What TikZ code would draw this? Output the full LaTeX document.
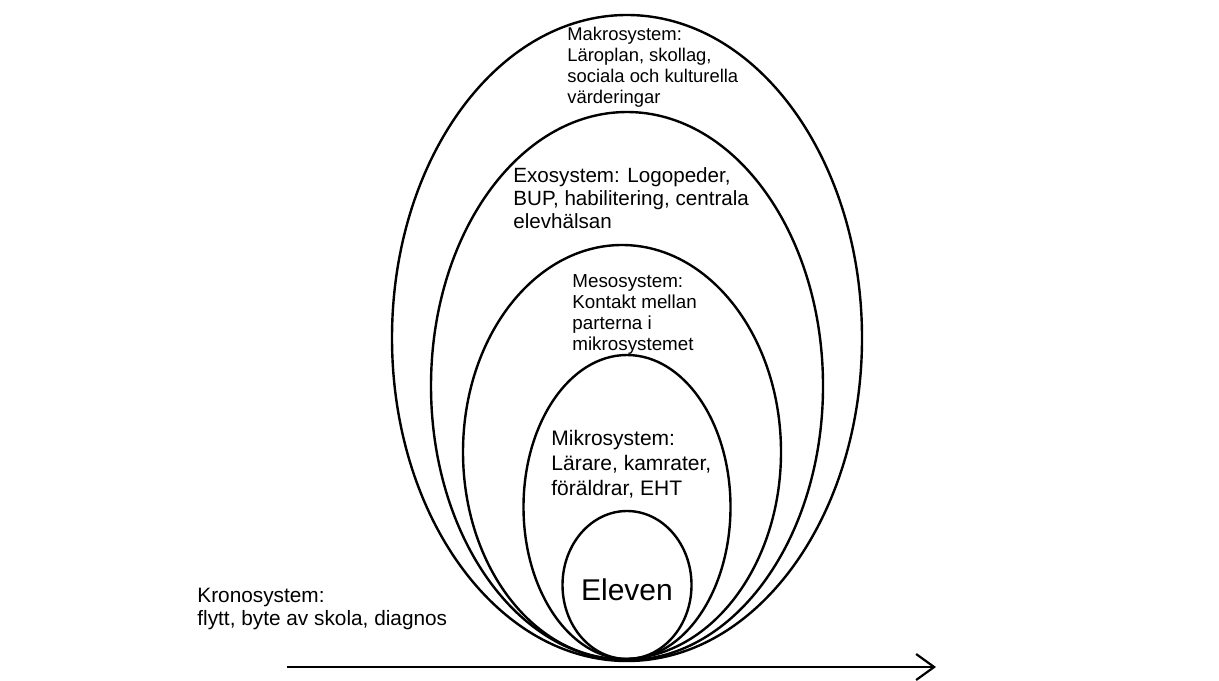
\documentclass[tikz,border=0pt]{standalone}
\usepackage{fontspec}
\setmainfont{Liberation Sans}
\usetikzlibrary{shapes.geometric,arrows.meta}
\begin{document}
\begin{tikzpicture}[x=0.5pt, y=-0.5pt,
    ring/.style = {shape=ellipse, draw, line width=1.2pt, inner sep=0pt},
    txt/.style = {anchor=base west, align=left, inner sep=0pt}]
  \useasboundingbox (0,0) rectangle (1219,680);
  % the systems, all touching at the bottom
  \node[ring, minimum width=235pt, minimum height=323pt] (makro) at (627,338) {};
  \node[ring, minimum width=196pt, minimum height=274pt] (exo) at (627,386) {};
  \node[ring, minimum width=159pt, minimum height=207pt] (meso) at (622,452) {};
  \node[ring, minimum width=103.5pt, minimum height=152pt] (mikro) at (627,507) {};
  \node[ring, minimum width=64.5pt, minimum height=74pt] (elev) at (627,585) {};
  % texts (base = last line)
  \node[txt, font=\fontsize{9.2}{10.5}\selectfont] (makrotext) at (567,103)
    {Makrosystem:\\Läroplan, skollag,\\sociala och kulturella\\värderingar};
  \node[txt, font=\fontsize{10.3}{11.5}\selectfont] (exotext) at (513,228)
    {Exosystem: Logopeder,\\BUP, habilitering, centrala\\elevhälsan};
  \node[txt, font=\fontsize{9.4}{10.5}\selectfont] (mesotext) at (572,350)
    {Mesosystem:\\Kontakt mellan\\parterna i\\mikrosystemet};
  \node[txt, font=\fontsize{10.5}{12.5}\selectfont] (mikrotext) at (551,495)
    {Mikrosystem:\\Lärare, kamrater,\\föräldrar, EHT};
  \node[font=\fontsize{15}{18}\selectfont, anchor=base, inner sep=0pt] (eleven) at (627,600) {Eleven};
  \node[txt, font=\fontsize{10.4}{11.5}\selectfont] (kronotext) at (197,625)
    {Kronosystem:\\flytt, byte av skola, diagnos};
  % time axis
  \coordinate (tstart) at (287,667);
  \coordinate (tend) at (936,667);
  \draw[line width=1pt, -{Straight Barb[length=9pt, width=13pt, line width=1.1pt]}] (tstart) -- (tend);
\end{tikzpicture}
\end{document}
